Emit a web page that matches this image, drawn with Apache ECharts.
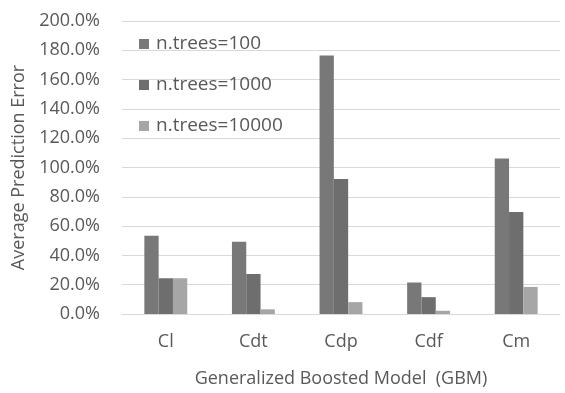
<!DOCTYPE html>
<html>
<head>
<meta charset="utf-8">
<script src="https://cdn.jsdelivr.net/npm/echarts@6/dist/echarts.min.js"></script>
<style>html,body{margin:0;padding:0;background:#fff;}#c{width:565px;height:393px;}</style>
</head>
<body>
<div id="c"></div>
<script>
const categories = ['Cl', 'Cdt', 'Cdp', 'Cdf', 'Cm'];
const seriesNames = ['n.trees=100', 'n.trees=1000', 'n.trees=10000'];
const trees100 = [53.4, 49.3, 176.5, 21.5, 106.2];
const trees1000 = [24.4, 27.3, 92.2, 11.5, 69.6];
const trees10000 = [24.4, 3.2, 8.1, 2.2, 18.5];
const yTicks = { min: 0, max: 200, interval: 20 };
const xTitle = 'Generalized Boosted Model  (GBM)';
const yTitle = 'Average Prediction Error';

const colors = ['#787878', '#6e6e6e', '#a6a6a6'];
const font = 'Open Sans';
const txt = '#595959';
const chart = echarts.init(document.getElementById('c'), null, { renderer: 'canvas' });
const values = [trees100, trees1000, trees10000];
chart.setOption({
  animation: false,
  textStyle: { fontFamily: font },
  grid: { left: 122, right: 5, top: 21, bottom: 77, containLabel: false },
  legend: {
    orient: 'vertical',
    left: 134,
    top: 29,
    itemWidth: 10,
    itemHeight: 10,
    itemGap: 21,
    icon: 'rect',
    textStyle: { fontFamily: font, fontSize: 19, color: txt, lineHeight: 20, padding: [0, 0, 0, 2] },
    data: seriesNames
  },
  xAxis: {
    type: 'category',
    data: categories,
    name: xTitle,
    nameLocation: 'middle',
    nameGap: 56,
    nameTextStyle: { fontFamily: font, fontSize: 18, color: txt },
    axisLine: { lineStyle: { color: '#d9d9d9', width: 1 } },
    axisTick: { show: false },
    axisLabel: { fontFamily: font, fontSize: 18, color: txt, margin: 19 }
  },
  yAxis: {
    type: 'value',
    min: yTicks.min,
    max: yTicks.max,
    interval: yTicks.interval,
    name: yTitle,
    nameLocation: 'middle',
    nameGap: 94,
    nameTextStyle: { fontFamily: font, fontSize: 18, color: txt },
    axisLine: { show: false },
    axisTick: { show: false },
    splitLine: { lineStyle: { color: '#d9d9d9', width: 1 } },
    axisLabel: { fontFamily: font, fontSize: 18, color: txt, margin: 22, formatter: v => v.toFixed(1) + '%' }
  },
  series: seriesNames.map((n, i) => ({
    name: n,
    type: 'bar',
    data: values[i],
    barGap: '0%',
    barCategoryGap: '51%',
    itemStyle: { color: colors[i] }
  }))
});
</script>
</body>
</html>
